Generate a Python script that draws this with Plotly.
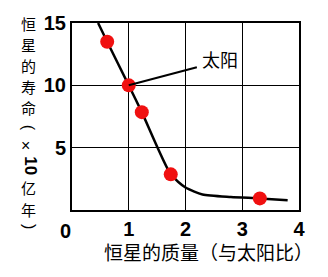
import plotly.graph_objects as go

# data
curve_x = [0.46, 0.62, 1.0, 1.23, 1.74, 2.0, 2.3, 2.8, 3.31, 3.8]
curve_y = [15.0, 13.5, 10.0, 7.85, 2.86, 1.8, 1.25, 1.05, 0.93, 0.78]
star_x = [0.62, 1.0, 1.23, 1.74, 3.31]
star_y = [13.5, 10.0, 7.85, 2.86, 0.93]
x_ticks = [1, 2, 3, 4]
y_ticks = [5, 10, 15]
sun_label = "太阳"
x_title = "恒星的质量（与太阳比）"
# vertical y title pieces: (text, centre pixel row, kind)
y_title_parts = [("恒", 16, "cjk"), ("星", 38, "cjk"), ("的", 60, "cjk"),
                 ("寿", 82, "cjk"), ("命", 104, "cjk"),
                 ("(", 125, "rot"),
                 ("×", 143, "sym"),
                 ("10", 164, "num"),
                 ("亿", 187, "cjk"), ("年", 209, "cjk"),
                 (")", 227, "rot")]

CJK = "Noto Sans CJK SC"
NUM = "Liberation Sans"

PLOT_TOP, PLOT_BOTTOM = 16, 210

fig = go.Figure()
fig.add_trace(go.Scatter(x=curve_x, y=curve_y, mode="lines",
                         line=dict(color="black", width=2.5, shape="spline", smoothing=0.6),
                         hoverinfo="skip", showlegend=False))
fig.add_trace(go.Scatter(x=star_x, y=star_y, mode="markers",
                         marker=dict(color="#f01010", size=14, line=dict(width=0)),
                         showlegend=False))

# sun pointer line and label
fig.add_shape(type="line", x0=star_x[1], y0=star_y[1], x1=2.2, y1=11.45,
              line=dict(color="black", width=2))
fig.add_annotation(x=2.25, y=12.1, text=sun_label, showarrow=False, xanchor="left",
                   font=dict(family=CJK, size=18, color="black"))

# corner zero
fig.add_annotation(x=0, y=0, text="<b>0</b>", showarrow=False, xshift=-7, yshift=-21,
                   font=dict(family=NUM, size=20, color="black"))

# y title (vertical, stacked characters)
for txt, py, kind in y_title_parts:
    yp = (PLOT_BOTTOM - py) / (PLOT_BOTTOM - PLOT_TOP)
    common = dict(xref="paper", yref="paper", x=-0.23, y=yp, yanchor="middle",
                  showarrow=False, borderpad=0)
    if kind == "num":
        fig.add_annotation(text=f"<b>{txt}</b>", textangle=90,
                           font=dict(family=NUM, size=17, color="black"), **common)
    elif kind == "rot":
        fig.add_annotation(text=txt, textangle=90,
                           font=dict(family=NUM, size=16, color="black"), **common)
    elif kind == "sym":
        fig.add_annotation(text=txt, font=dict(family=NUM, size=16, color="black"), **common)
    else:
        fig.add_annotation(text=txt, font=dict(family=CJK, size=15, color="black"), **common)

# x title
fig.add_annotation(xref="paper", yref="paper", x=0.6, y=-0.222, yanchor="middle",
                   text=x_title, showarrow=False,
                   font=dict(family=CJK, size=19, color="black"))

fig.update_xaxes(range=[0, 4], tickvals=x_ticks, ticktext=[f"<b>{t}</b>" for t in x_ticks],
                 showgrid=True, gridcolor="black", gridwidth=1,
                 showline=True, linecolor="black", linewidth=2, mirror=True,
                 ticks="", zeroline=False,
                 tickfont=dict(family=NUM, size=20, color="black"))
fig.update_yaxes(range=[0, 15], tickvals=y_ticks, ticktext=[f"<b>{t}</b>" for t in y_ticks],
                 showgrid=True, gridcolor="black", gridwidth=1,
                 showline=True, linecolor="black", linewidth=2, mirror=True,
                 ticks="", zeroline=False,
                 tickfont=dict(family=NUM, size=20, color="black"))

fig.update_layout(width=328, height=277, margin=dict(l=72, r=29, t=16, b=67),
                  plot_bgcolor="white", paper_bgcolor="white")

fig.write_html("out.html")
